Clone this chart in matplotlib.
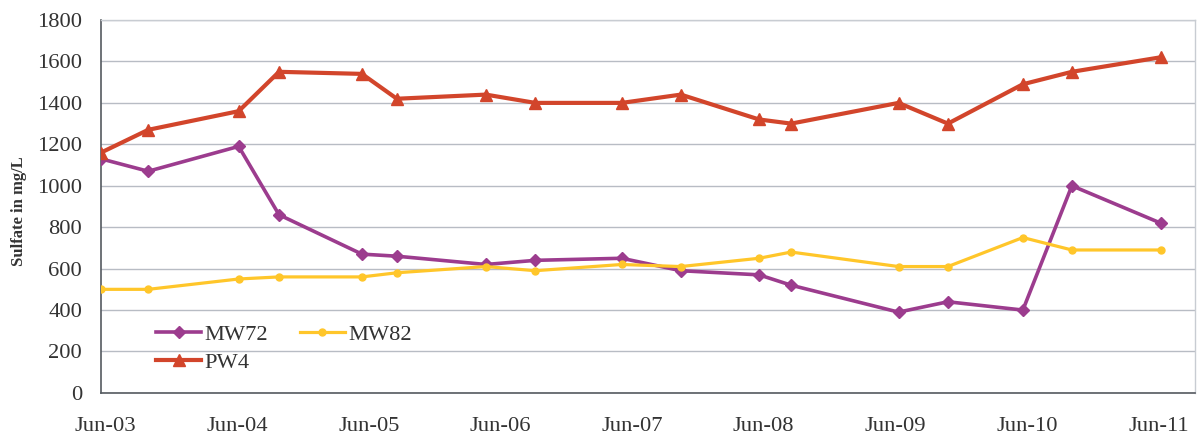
import matplotlib
matplotlib.use("Agg")
import matplotlib.pyplot as plt
import pandas as pd

dates = pd.to_datetime([
    "2003-05-20", "2003-09-28", "2004-06-05", "2004-09-25", "2005-05-13",
    "2005-08-18", "2006-04-22", "2006-09-06", "2007-05-04", "2007-10-15",
    "2008-05-19", "2008-08-16", "2009-06-10", "2009-10-25", "2010-05-21",
    "2010-10-04", "2011-06-07",
])
mw72 = [1130, 1070, 1190, 860, 670, 660, 620, 640, 650, 590, 570, 520, 390, 440, 400, 1000, 820]
mw82 = [500, 500, 550, 560, 560, 580, 610, 590, 620, 610, 650, 680, 610, 610, 750, 690, 690]
pw4 = [1160, 1270, 1360, 1550, 1540, 1420, 1440, 1400, 1400, 1440, 1320, 1300, 1400, 1300, 1490, 1550, 1620]
tick_dates = pd.to_datetime([f"{y}-06-01" for y in range(2003, 2012)])
tick_labels = [f"Jun-{y % 100:02d}" for y in range(2003, 2012)]
y_ticks = list(range(0, 2000, 200))

plt.rcParams['font.family'] = ['Liberation Serif', 'DejaVu Serif']

fig = plt.figure(figsize=(11.98, 4.41), dpi=100)
ax = fig.add_axes([0.0843, 0.109, 0.913, 0.8456])

c72 = "#9C3C8E"
c82 = "#FFC62A"
cpw = "#D2452B"

l72, = ax.plot(dates, mw72, color=c72, lw=2.6, marker="D", ms=6, label="MW72", zorder=3)
l82, = ax.plot(dates, mw82, color=c82, lw=2.3, marker="o", ms=5, label="MW82", zorder=3)
lpw, = ax.plot(dates, pw4, color=cpw, lw=3.0, marker="^", ms=8.5, label="PW4", zorder=4)

ax.set_xlim(pd.Timestamp("2003-05-20"), pd.Timestamp("2011-09-10"))
ax.set_ylim(0, 1800)
ax.set_yticks(y_ticks)
ax.set_xticks(tick_dates)
ax.set_xticklabels(tick_labels)
ax.tick_params(axis='both', labelsize=16.2, colors="#333333", length=0)
ax.tick_params(axis='y', pad=13.5)
ax.tick_params(axis='x', pad=17)
ax.grid(axis='y', color="#B8BCC4", lw=1.0)
ax.set_axisbelow(True)
for s in ['left', 'bottom']:
    ax.spines[s].set_color("#555a60")
    ax.spines[s].set_linewidth(1.2)
for s in ['top', 'right']:
    ax.spines[s].set_color("#C8CCD2")
    ax.spines[s].set_linewidth(1.0)

fig.text(0.016, 0.522, "Sulfate in mg/L", rotation=90, ha='center', va='center',
         fontsize=12, fontweight='bold', color="#333333")

leg = ax.legend([l72, lpw, l82], ["MW72", "PW4", "MW82"], ncol=2, frameon=False,
                loc='lower left', bbox_to_anchor=(0.032, 0.0), fontsize=16.2,
                handlelength=2.0, handletextpad=0.15, columnspacing=1.4, labelspacing=0.3)
for t in leg.get_texts():
    t.set_color("#333333")

fig.savefig("out.png", dpi=100)
